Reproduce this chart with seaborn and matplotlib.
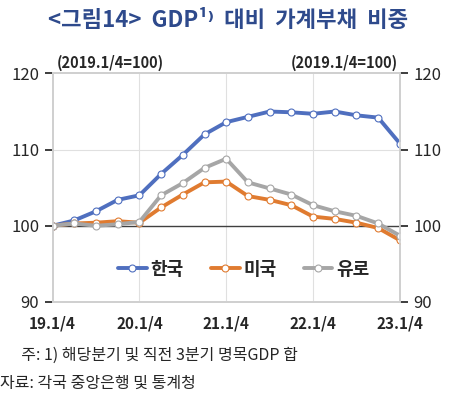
import matplotlib
matplotlib.use("Agg")
import matplotlib.pyplot as plt
import seaborn as sns
import pandas as pd
import numpy as np

sns.set_theme(style="white")
plt.rcParams['font.family'] = ['Noto Sans CJK KR', 'DejaVu Sans']

quarters = ["19.1/4","19.2/4","19.3/4","19.4/4","20.1/4","20.2/4","20.3/4","20.4/4","21.1/4",
            "21.2/4","21.3/4","21.4/4","22.1/4","22.2/4","22.3/4","22.4/4","23.1/4"]
korea = [100,100.7,101.9,103.4,104.0,106.8,109.3,112.0,113.6,114.3,115.0,114.9,114.7,115.0,114.5,114.2,110.8]
usa = [100,100.3,100.4,100.6,100.4,102.4,104.1,105.7,105.8,103.9,103.4,102.7,101.2,100.9,100.4,99.7,98.1]
euro = [100,100.3,100.0,100.2,100.5,104.0,105.6,107.6,108.8,105.7,104.9,104.1,102.7,101.9,101.3,100.3,98.7]
xticklabels = ["19.1/4","20.1/4","21.1/4","22.1/4","23.1/4"]

series = [("한국", korea, "#4f6fbf"), ("미국", usa, "#e07b30"), ("유로", euro, "#a6a6a6")]

fig = plt.figure(figsize=(4.57,4.08), dpi=100)
ax = fig.add_axes([0.115, 0.26, 0.76, 0.56])
ax.axhline(100, color="#404040", lw=1, zorder=1)
for x in [4,8,12]:
    ax.axvline(x, color="#e0e0e0", lw=0.8, zorder=0)
ax.axhline(110, color="#e0e0e0", lw=0.8, zorder=0)
xs = np.arange(len(quarters))
for name, vals, c in series:
    sns.lineplot(x=xs, y=vals, color=c, label=name, linestyle="-", marker="o", lw=2.8,
                 markersize=5, markerfacecolor="white", markeredgecolor=c,
                 markeredgewidth=0.8, ax=ax, zorder=3)
ax.set_xlim(0,16)
ax.set_ylim(90,120)
ax.set_yticks([90,100,110,120])
ax.set_xticks([0,4,8,12,16])
ax.set_xticklabels(xticklabels, fontweight="bold", fontsize=11)
ax.tick_params(axis='y', labelsize=12)
ax.set_xlabel(""); ax.set_ylabel("")
for s in ax.spines.values():
    s.set_color("#d0d0d0")
ax2 = ax.twinx()
ax2.set_ylim(90,120); ax2.set_yticks([90,100,110,120]); ax2.tick_params(labelsize=12)
for s in ax2.spines.values():
    s.set_color("#d0d0d0")
ax.legend(loc="lower center", bbox_to_anchor=(0.55,0.03), ncol=3, frameon=False,
          prop={'weight':'bold','size':13}, handlelength=1.6, columnspacing=1.5, handletextpad=0.2)
fig.text(0.5, 0.95, "<그림14>  GDP¹⁾  대비  가계부채  비중", ha="center", va="center",
         fontsize=16, fontweight="bold", color="#2e4a8c")
fig.text(0.125, 0.845, "(2019.1/4=100)", fontsize=10.5, fontweight="bold", va="center")
fig.text(0.87, 0.845, "(2019.1/4=100)", fontsize=10.5, fontweight="bold", va="center", ha="right")
fig.text(0.03, 0.13, "  주: 1) 해당분기 및 직전 3분기 명목GDP 합", fontsize=11.5, va="center")
fig.text(0.0, 0.06, "자료: 각국 중앙은행 및 통계청", fontsize=11.5, va="center")
fig.savefig("out.png", dpi=100)
